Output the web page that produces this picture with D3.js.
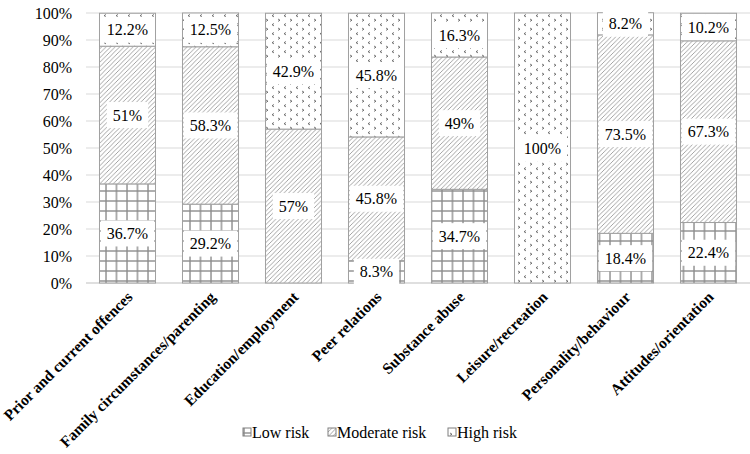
<!DOCTYPE html>
<html>
<head>
<meta charset="utf-8">
<script src="https://cdn.jsdelivr.net/npm/d3@7"></script>
<style>
  body { margin: 0; background: #fff; }
  svg { display: block; }
  svg text { font-family: "Liberation Serif", "DejaVu Serif", serif; }
</style>
</head>
<body>
<script>
// chart data
let categories = ["Prior and current offences", "Family circumstances/parenting", "Education/employment",
    "Peer relations", "Substance abuse", "Leisure/recreation", "Personality/behaviour", "Attitudes/orientation"];
let series = ["Low risk", "Moderate risk", "High risk"];
let lowRisk = [36.7, 29.2, 0, 8.3, 34.7, 0, 18.4, 22.4];
let moderateRisk = [51, 58.3, 57, 45.8, 49, 0, 73.5, 67.3];
let highRisk = [12.2, 12.5, 42.9, 45.8, 16.3, 100, 8.2, 10.2];
let yTicks = [0, 10, 20, 30, 40, 50, 60, 70, 80, 90, 100];

let width = 750, height = 454;
let margin = { top: 13, right: 0, bottom: 171, left: 86 };
let serif = "Liberation Serif";

let svg = d3.select("body").append("svg")
    .attr("width", width)
    .attr("height", height);

// patterns for the three series
let defs = svg.append("defs");

let pLow = defs.append("pattern")
    .attr("id", "p-low")
    .attr("patternUnits", "userSpaceOnUse")
    .attr("width", 10.5).attr("height", 10);
pLow.append("rect").attr("width", 10.5).attr("height", 10).attr("fill", "#fff");
pLow.append("line").attr("x1", 0).attr("x2", 10.5).attr("y1", 1).attr("y2", 1)
    .attr("stroke", "#8c8c8c").attr("stroke-width", 1.4);
pLow.append("line").attr("x1", 1).attr("x2", 1).attr("y1", 0).attr("y2", 10)
    .attr("stroke", "#8c8c8c").attr("stroke-width", 1.4);

let pMod = defs.append("pattern")
    .attr("id", "p-mod")
    .attr("patternUnits", "userSpaceOnUse")
    .attr("width", 4.5).attr("height", 4.5);
pMod.append("rect").attr("width", 4.5).attr("height", 4.5).attr("fill", "#fff");
pMod.append("path").attr("d", "M-1,5.5 L5.5,-1 M-1,1 L1,-1 M3.5,5.5 L5.5,3.5")
    .attr("stroke", "#9a9a9a").attr("stroke-width", 0.9);

let pHigh = defs.append("pattern")
    .attr("id", "p-high")
    .attr("patternUnits", "userSpaceOnUse")
    .attr("width", 12).attr("height", 9);
pHigh.append("rect").attr("width", 12).attr("height", 9).attr("fill", "#fff");
pHigh.append("path").attr("d", "M2,1 L4,2.2 L2,3.4 M10,5.5 L8,6.7 L10,7.9")
    .attr("stroke", "#555").attr("stroke-width", 0.8).attr("fill", "none");

let fills = ["url(#p-low)", "url(#p-mod)", "url(#p-high)"];

let x = d3.scaleBand()
    .domain(categories)
    .range([margin.left, width - margin.right])
    .paddingInner(0.325)
    .paddingOuter(0.1625);

let y = d3.scaleLinear()
    .domain([0, 100])
    .range([height - margin.bottom, margin.top]);

// gridlines
svg.append("g")
    .selectAll("line")
    .data(yTicks)
    .join("line")
    .attr("x1", margin.left)
    .attr("x2", width - margin.right)
    .attr("y1", d => y(d))
    .attr("y2", d => y(d))
    .attr("stroke", d => d === 0 ? "#bfbfbf" : "#d9d9d9")
    .attr("stroke-width", 1);

// y axis labels
let yAxis = svg.append("g")
    .attr("transform", `translate(${margin.left},0)`)
    .call(d3.axisLeft(y).tickValues(yTicks).tickFormat(d => d + "%").tickSize(0).tickPadding(14))
    .attr("font-family", serif);
yAxis.select(".domain").remove();
yAxis.selectAll("text")
    .attr("font-family", serif)
    .attr("font-size", 16)
    .attr("fill", "#000");

// stack
let rows = categories.map((c, i) => ({ cat: c, "Low risk": lowRisk[i], "Moderate risk": moderateRisk[i], "High risk": highRisk[i] }));
let stacked = d3.stack().keys(series)(rows);

let groups = svg.append("g")
    .selectAll("g")
    .data(stacked)
    .join("g")
    .attr("fill", (d, i) => fills[i]);

groups.selectAll("rect")
    .data(d => d.filter(s => s[1] - s[0] > 0))
    .join("rect")
    .attr("x", d => x(d.data.cat))
    .attr("width", x.bandwidth())
    .attr("y", d => y(d[1]))
    .attr("height", d => y(d[0]) - y(d[1]))
    .attr("stroke", "#a0a0a0")
    .attr("stroke-width", 1);

// value labels
let labelData = [];
stacked.forEach(s => {
    s.forEach(d => {
        let v = d[1] - d[0];
        if (v > 0) labelData.push({ cat: d.data.cat, v: d.data[s.key], mid: (d[0] + d[1]) / 2 });
    });
});

let labels = svg.append("g")
    .selectAll("g")
    .data(labelData)
    .join("g")
    .attr("transform", d => `translate(${x(d.cat) + x.bandwidth() / 2},${y(d.mid)})`);

labels.append("text")
    .attr("text-anchor", "middle")
    .attr("dy", "0.35em")
    .attr("font-family", serif)
    .attr("font-size", 16)
    .attr("fill", "#000")
    .text(d => d.v + "%");

labels.each(function () {
    let g = d3.select(this);
    let bb = g.select("text").node().getBBox();
    g.insert("rect", "text")
        .attr("x", bb.x - 6)
        .attr("y", -13)
        .attr("width", bb.width + 12)
        .attr("height", 26)
        .attr("fill", "#fff");
});

// x axis labels, rotated
svg.append("g")
    .selectAll("text")
    .data(categories)
    .join("text")
    .attr("transform", d => `translate(${x(d) + x.bandwidth() / 2 + 6},${height - margin.bottom + 15}) rotate(-45)`)
    .attr("text-anchor", "end")
    .attr("font-family", serif)
    .attr("font-size", 15.5)
    .attr("font-weight", "bold")
    .attr("fill", "#000")
    .text(d => d);

// legend
let legendX = [243, 328, 448];
let legend = svg.append("g")
    .selectAll("g")
    .data(series)
    .join("g")
    .attr("transform", (d, i) => `translate(${legendX[i]},432)`);

legend.append("rect")
    .attr("x", 0).attr("y", -4)
    .attr("width", 8).attr("height", 8)
    .attr("fill", (d, i) => fills[i])
    .attr("stroke", "#7f7f7f")
    .attr("stroke-width", 1);

legend.append("text")
    .attr("x", 9)
    .attr("dy", "0.35em")
    .attr("font-family", serif)
    .attr("font-size", 16)
    .attr("fill", "#000")
    .text(d => d);
</script>
</body>
</html>
